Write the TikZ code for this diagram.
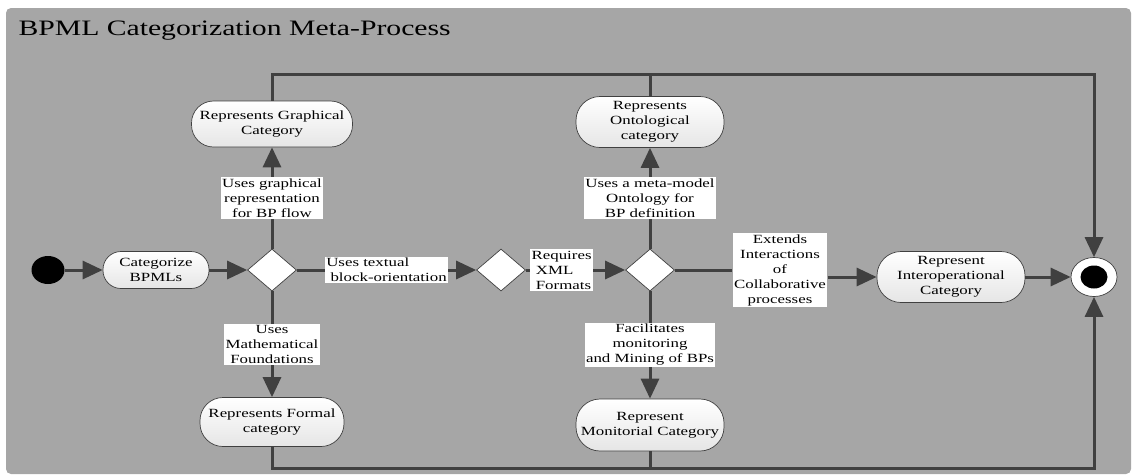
\documentclass[tikz,border=0pt]{standalone}
\usepackage{fontspec}
\setmainfont{Liberation Serif}[FakeStretch=1.35]
\usetikzlibrary{shapes.geometric,arrows.meta}
\definecolor{bggray}{RGB}{166,166,166}
\definecolor{flowgray}{RGB}{64,64,64}
\tikzset{
	act/.style={rectangle, rounded corners=18pt, draw=flowgray, line width=0.7pt, top color=white, bottom color=black!10, align=center, inner sep=2pt, font=\fontsize{12.5}{15}\selectfont},
	dec/.style={diamond, draw=flowgray, line width=0.7pt, fill=white, inner sep=0pt, minimum width=49pt, minimum height=42pt},
	lbl/.style={fill=white, inner sep=1.5pt, align=center, font=\fontsize{12.5}{15}\selectfont},
	wire/.style={draw=flowgray, line width=3pt},
	flow/.style={wire, -{Triangle[length=20pt,width=18pt]}},
}

\begin{document}
\begin{tikzpicture}[x=1pt, y=-1pt]
			\useasboundingbox (0,0) rectangle (1132,475);
			\fill[bggray, rounded corners=5pt] (6,8) rectangle (1131,474);
			\node (t)[anchor=base west, font=\fontsize{22}{26}\selectfont] at (15,35) {BPML Categorization Meta-Process};

			\node (s)[ellipse, fill=black, inner sep=0pt, minimum width=33pt, minimum height=28pt] at (48,270) {};
			\node (cat)[act, minimum width=106pt, minimum height=37pt] at (156,270) {Categorize\\BPMLs};
			\node (d1)[dec] at (272,270) {};
			\node (d2)[dec] at (501,270) {};
			\node (d3)[dec] at (650,270) {};
			\node (gr)[act, rounded corners=22pt, minimum width=161pt, minimum height=46pt] at (272,124) {Represents Graphical\\Category};
			\node (fo)[act, rounded corners=23pt, minimum width=144pt, minimum height=49pt] at (272,422) {Represents Formal\\category};
			\node (on)[act, rounded corners=24pt, minimum width=148pt, minimum height=51pt] at (650,122) {Represents\\Ontological\\category};
			\node (mo)[act, rounded corners=24pt, minimum width=148pt, minimum height=52pt] at (650,425) {Represent\\Monitorial Category};
			\node (io)[act, rounded corners=24pt, minimum width=148pt, minimum height=51pt] at (951,277) {Represent\\Interoperational\\Category};
			\node (e)[ellipse, draw=flowgray, line width=0.7pt, fill=white, inner sep=0pt, minimum width=46pt, minimum height=39pt] at (1094,277) {};
			\node (e1)[ellipse, fill=black, inner sep=0pt, minimum width=27pt, minimum height=23pt] at (e) {};
			\node (ext)[lbl] at (780,270) {Extends\\Interactions\\of\\Collaborative\\processes};
			\coordinate (tr) at (1094,74);
			\coordinate (br) at (1094,468);

			\draw [flow](s) -- (cat);
			\draw [flow](cat) -- (d1);
			\draw [flow](d1) -- node[lbl]{Uses graphical\\representation\\for BP flow} (gr);
			\draw [flow](d1) -- node[lbl]{Uses\\Mathematical\\Foundations} (fo);
			\draw [flow](d1) -- node[lbl, align=left]{Uses textual\\\ block-orientation} (d2);
			\draw [flow](d2) -- node[lbl, align=left, pos=.36]{Requires\\\ XML\\\ Formats} (d3);
			\draw [flow](d3) -- node[lbl]{Uses a meta-model\\Ontology for\\BP definition} (on);
			\draw [flow](d3) -- node[lbl]{Facilitates\\monitoring\\and Mining of BPs} (mo);
			\draw [wire](d3) -- (ext);
			\draw [flow](ext.east |- io) -- (io);
			\draw [flow](io) -- (e);

			\draw [flow](gr) |- (tr) -- (e);
			\draw [wire](on) -- (on |- tr);
			\draw [flow](fo) |- (br) -- (e);
			\draw [wire](mo) -- (mo |- br);
		\end{tikzpicture}
\end{document}
